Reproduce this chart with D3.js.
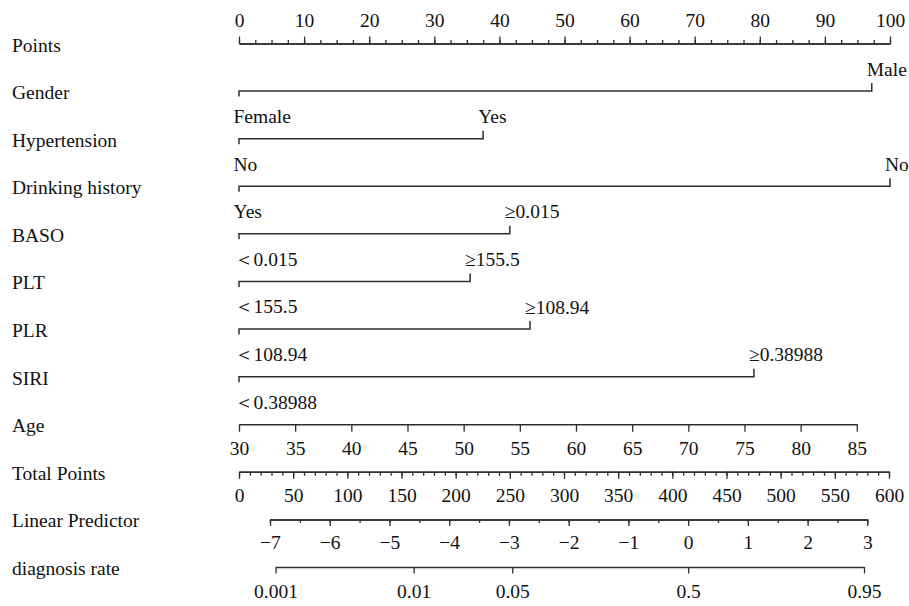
<!DOCTYPE html>
<html>
<head>
<meta charset="utf-8">
<script src="https://cdn.jsdelivr.net/npm/d3@7"></script>
<style>
  body { margin: 0; background: #fff; }
</style>
</head>
<body>
<svg id="nomo" width="909" height="606"></svg>
<script>
// Row titles, top to bottom
const rowLabels = ["Points", "Gender", "Hypertension", "Drinking history", "BASO", "PLT", "PLR",
                   "SIRI", "Age", "Total Points", "Linear Predictor", "diagnosis rate"];

// Points scale
const pointTicks = d3.range(0, 101, 10);
const pointMinor = d3.range(0, 100.01, 2.5);

// Binary predictors: level scored 0, level scored highPoints
const factorNames = ["Gender", "Hypertension", "Drinking history", "BASO", "PLT", "PLR", "SIRI"];
const lowLevels  = ["Female", "No", "Yes", "＜0.015", "＜155.5", "＜108.94", "＜0.38988"];
const highLevels = ["Male", "Yes", "No", "≥0.015", "≥155.5", "≥108.94", "≥0.38988"];
const highPoints = [97.2, 37.5, 100, 41.6, 35.5, 44.7, 79.1];

// Age (continuous)
const ageTicks = d3.range(30, 86, 5);
const ageDomain = [30, 85];
const agePoints = [0, 94.9];

// Total points
const totalTicks = d3.range(0, 601, 50);
const totalMinor = d3.range(0, 601, 10);

// Linear predictor
const lpTicks = d3.range(-7, 3.01, 1);
const lpMinor = d3.range(-7, 3.01, 0.5);
const lpTotals = [28.6, 580];   // total points at LP = -7 and LP = 3

// Probability of diagnosis
const rateTicks = [0.001, 0.01, 0.05, 0.5, 0.95];

const FONT = "'Liberation Serif', 'Times New Roman', 'DejaVu Serif', serif";
const FS = "19.5px";
const INK = "#2e2e2e";

const svg = d3.select("#nomo")
  .attr("font-family", FONT)
  .style("font-family", FONT);

const y = d3.scalePoint().domain(rowLabels).range([43.5, 567]);
const xPts = d3.scaleLinear().domain([0, 100]).range([239, 890]);
const xTot = d3.scaleLinear().domain([0, 600]).range([239, 889]);
const xAge = d3.scaleLinear().domain(ageDomain).range(agePoints.map(xPts));
const xLP = d3.scaleLinear().domain([-7, 3]).range(lpTotals.map(xTot));
const logit = p => Math.log(p / (1 - p));
const xRate = d3.scaleLinear()
  .domain([logit(rateTicks[0]), logit(rateTicks[rateTicks.length - 1])])
  .range([xLP(logit(rateTicks[0])), xLP(logit(rateTicks[rateTicks.length - 1]))]);

function setFont(sel) {
  return sel.attr("font-family", FONT).style("font-family", FONT)
    .style("font-size", FS).attr("fill", "#111");
}

// Row titles
svg.append("g").selectAll("text").data(rowLabels).join("text")
  .attr("x", 12).attr("y", d => y(d) + 8)
  .call(setFont).text(d => d);

function styleAxis(g) {
  g.attr("font-family", FONT);
  g.selectAll("path.domain").attr("stroke", INK).attr("stroke-width", 1.5);
  g.selectAll(".tick line").attr("stroke", INK).attr("stroke-width", 1.3);
  g.selectAll("text").call(setFont);
}

// Numeric axis: labelled major ticks plus unlabelled minor ticks
function numericAxis(row, scale, orient, major, minor, majorLen, minorLen, labelY, fmt) {
  const base = orient === "top" ? d3.axisTop : d3.axisBottom;
  const g = svg.append("g").attr("transform", `translate(0,${y(row)})`);
  if (minor) {
    const gm = g.append("g").call(base(scale).tickValues(minor).tickSize(minorLen)
      .tickSizeOuter(0).tickFormat(""));
    styleAxis(gm);
  }
  const gM = g.append("g").call(base(scale).tickValues(major).tickSize(majorLen)
    .tickSizeOuter(0).tickFormat(fmt || (d => d)));
  styleAxis(gM);
  gM.selectAll("text").attr("y", labelY).attr("dy", 0);
  return gM;
}

numericAxis("Points", xPts, "top", pointTicks, pointMinor, 7, 3.5, -17);

// Binary predictors
factorNames.forEach((name, i) => {
  const yy = y(name);
  const g = svg.append("g");
  const x0 = xPts(0), x1 = xPts(highPoints[i]);
  g.append("path")
    .attr("d", d3.line()([[x0, yy + 5.5], [x0, yy], [x1, yy], [x1, yy - 8]]))
    .attr("fill", "none").attr("stroke", INK).attr("stroke-width", 1.5);
  g.append("text").attr("x", x0 - 5.5).attr("y", yy + 32)
    .call(setFont).text(lowLevels[i]);
  g.append("text").attr("x", x1 - 5).attr("y", yy - 15.5)
    .call(setFont).text(highLevels[i]);
});

numericAxis("Age", xAge, "bottom", ageTicks, null, 7.5, 0, 31);
numericAxis("Total Points", xTot, "bottom", totalTicks, totalMinor, 7, 4, 30);
numericAxis("Linear Predictor", xLP, "bottom", lpTicks, lpMinor, 6.5, 3.5, 30,
  d => d < 0 ? "\u2212" + Math.abs(d) : String(d));
numericAxis("diagnosis rate", xRate, "bottom", rateTicks.map(logit), null, 6.5, 0, 31,
  (d, i) => String(rateTicks[i]));
</script>
</body>
</html>
